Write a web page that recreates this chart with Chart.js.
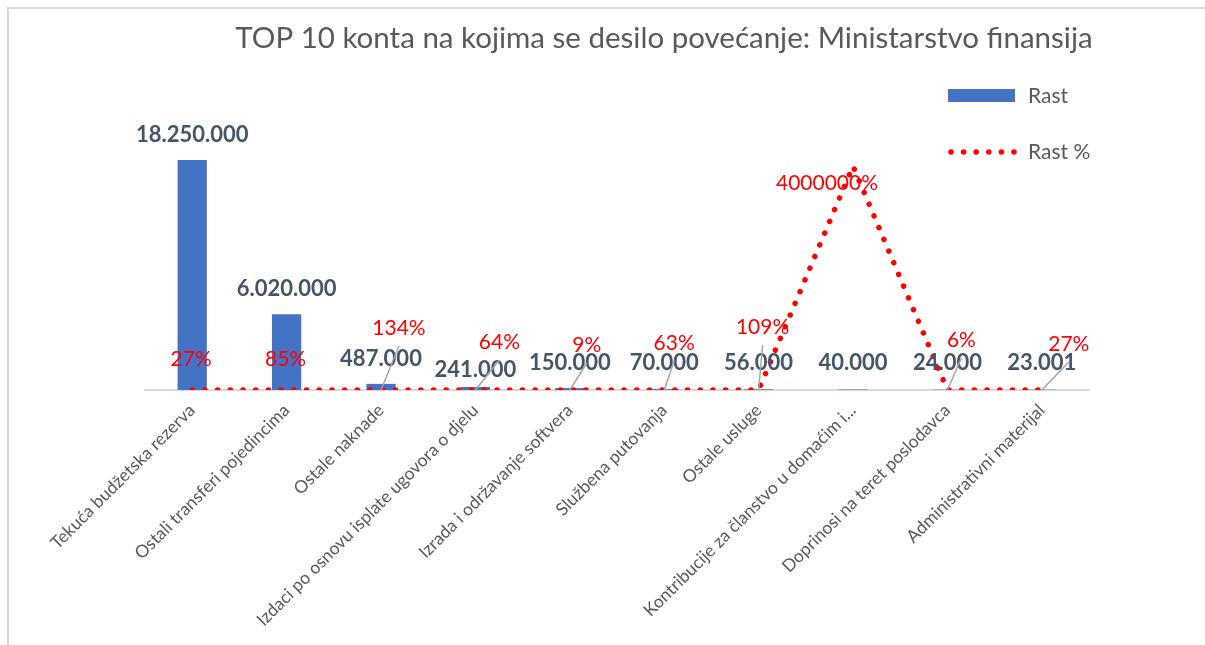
<!DOCTYPE html>
<html>
<head>
<meta charset="utf-8">
<title>TOP 10 konta</title>
<script src="https://cdn.jsdelivr.net/npm/chart.js@4.4.0/dist/chart.umd.min.js"></script>
<style>
  html, body { margin: 0; padding: 0; background: #ffffff; }
  #wrap { position: relative; width: 1205px; height: 645px; overflow: hidden; }
  /* thin grey frame of the excel chart object */
  #frame { position: absolute; left: 7px; top: 7px; right: -5px; bottom: -5px;
           border-top: 2px solid #d9d9d9; border-left: 2px solid #d9d9d9; }
  #myChart { position: absolute; left: 0; top: 0; }
</style>
</head>
<body>
<div id="wrap">
  <div id="frame"></div>
  <canvas id="myChart" width="1205" height="645"></canvas>
</div>
<script>
// ---- data ----
var chartTitle = 'TOP 10 konta na kojima se desilo povećanje: Ministarstvo finansija';
var seriesNames = ['Rast', 'Rast %'];

var categories = [
  'Tekuća budžetska rezerva',
  'Ostali transferi pojedincima',
  'Ostale naknade',
  'Izdaci po osnovu isplate ugovora o djelu',
  'Izrada i održavanje softvera',
  'Službena putovanja',
  'Ostale usluge',
  'Kontribucije za članstvo u domaćim i...',
  'Doprinosi na teret poslodavca',
  'Administrativni materijal'
];

// increase in amount
var rast = [18250000, 6020000, 487000, 241000, 150000, 70000, 56000, 40000, 24000, 23001];
// increase in percent (as fraction, 0.27 = 27%)
var rastPct = [0.27, 0.85, 1.34, 0.64, 0.09, 0.63, 1.09, 40000, 0.06, 0.27];

// ---- label placement (excel labels were dragged by hand) ----
var barLabelNudge = [0, 0, 0, 8, 0, 0, 0, 0, 0, 0];
var pctLabelOffset = [[-1, -31], [-1, -31], [18, -62], [24, -48], [17, -45],
                      [10, -47], [4, -63], [-26, 17], [14, -50], [27, -46]];
var pctLeader = [false, false, true, true, true, true, true, false, true, true];

var FONT = 'Lato, "Open Sans", sans-serif';
var BLUE = '#4472C4';
var RED = '#FF0000';
var GREY_TXT = '#595959';

// 18250000 -> 18.250.000
function fmtNum(v) {
  return String(v).replace(/\B(?=(\d{3})+(?!\d))/g, '.');
}
function fmtPct(v) {
  return Math.round(v * 100) + '%';
}

// draws value labels, leader lines, title and legend
var labelPlugin = {
  id: 'excelLabels',
  afterDatasetsDraw: function (chart) {
    var ctx = chart.ctx;
    var bars = chart.getDatasetMeta(0).data;
    var pts = chart.getDatasetMeta(1).data;
    ctx.save();
    ctx.textAlign = 'center';
    ctx.textBaseline = 'middle';

    // bar values
    ctx.font = 'bold 22px ' + FONT;
    ctx.fillStyle = '#44546A';
    for (var i = 0; i < bars.length; i++) {
      var b = bars[i];
      var y = Math.min(b.y - 25, b.base - 27) + barLabelNudge[i];
      ctx.fillText(fmtNum(rast[i]), b.x, y);
    }

    // leader lines for the percent labels
    ctx.strokeStyle = '#A6A6A6';
    ctx.lineWidth = 1.5;
    for (var j = 0; j < pts.length; j++) {
      if (!pctLeader[j]) continue;
      var p = pts[j];
      ctx.beginPath();
      ctx.moveTo(p.x, p.y);
      ctx.lineTo(p.x + pctLabelOffset[j][0], p.y + pctLabelOffset[j][1] + 18);
      ctx.stroke();
    }

    // percent values
    ctx.font = '21px ' + FONT;
    ctx.fillStyle = RED;
    for (var k = 0; k < pts.length; k++) {
      var q = pts[k];
      ctx.fillText(fmtPct(rastPct[k]), q.x + pctLabelOffset[k][0], q.y + pctLabelOffset[k][1]);
    }
    ctx.restore();
  },
  afterDraw: function (chart) {
    var ctx = chart.ctx;
    ctx.save();
    // title
    ctx.font = '29.5px ' + FONT;
    ctx.fillStyle = GREY_TXT;
    ctx.textAlign = 'center';
    ctx.textBaseline = 'middle';
    ctx.fillText(chartTitle, 664, 38);

    // legend
    ctx.textAlign = 'left';
    ctx.font = '21px ' + FONT;
    ctx.fillStyle = chart.data.datasets[0].backgroundColor;
    ctx.fillRect(948, 89, 67, 13);
    ctx.fillStyle = GREY_TXT;
    ctx.fillText(seriesNames[0], 1028, 96);

    ctx.fillStyle = chart.data.datasets[1].borderColor;
    for (var d = 0; d < 6; d++) {
      ctx.beginPath();
      ctx.arc(951 + d * 12.6, 152, 2.8, 0, Math.PI * 2);
      ctx.fill();
    }
    ctx.fillStyle = GREY_TXT;
    ctx.fillText(seriesNames[1], 1028, 152);
    ctx.restore();
  }
};

var chart = new Chart(document.getElementById('myChart'), {
  type: 'bar',
  data: {
    labels: categories,
    datasets: [
      {
        type: 'bar',
        label: seriesNames[0],
        data: rast,
        backgroundColor: BLUE,
        borderWidth: 0,
        barPercentage: 0.31,
        categoryPercentage: 1.0,
        yAxisID: 'y',
        order: 2
      },
      {
        type: 'line',
        label: seriesNames[1],
        data: rastPct,
        borderColor: RED,
        backgroundColor: RED,
        borderWidth: 5.5,
        borderDash: [0.1, 12.6],
        borderCapStyle: 'round',
        pointRadius: 0,
        tension: 0,
        yAxisID: 'y2',
        order: 1
      }
    ]
  },
  options: {
    responsive: false,
    animation: false,
    layout: { padding: { left: 145, right: 116, top: 138, bottom: 0 } },
    plugins: {
      legend: { display: false },
      title: { display: false },
      tooltip: { enabled: false }
    },
    scales: {
      x: {
        grid: { display: false, drawTicks: false },
        border: { color: '#D9D9D9', width: 2 },
        ticks: {
          color: GREY_TXT,
          font: { family: FONT, size: 17.5 },
          minRotation: 45,
          maxRotation: 45,
          autoSkip: false,
          padding: 10
        },
        afterFit: function (scale) { scale.height = 255; }
      },
      y: { display: false, min: 0, max: 20000000 },
      y2: { display: false, min: 0, max: 45000, position: 'right' }
    }
  },
  plugins: [labelPlugin]
});
</script>
</body>
</html>
